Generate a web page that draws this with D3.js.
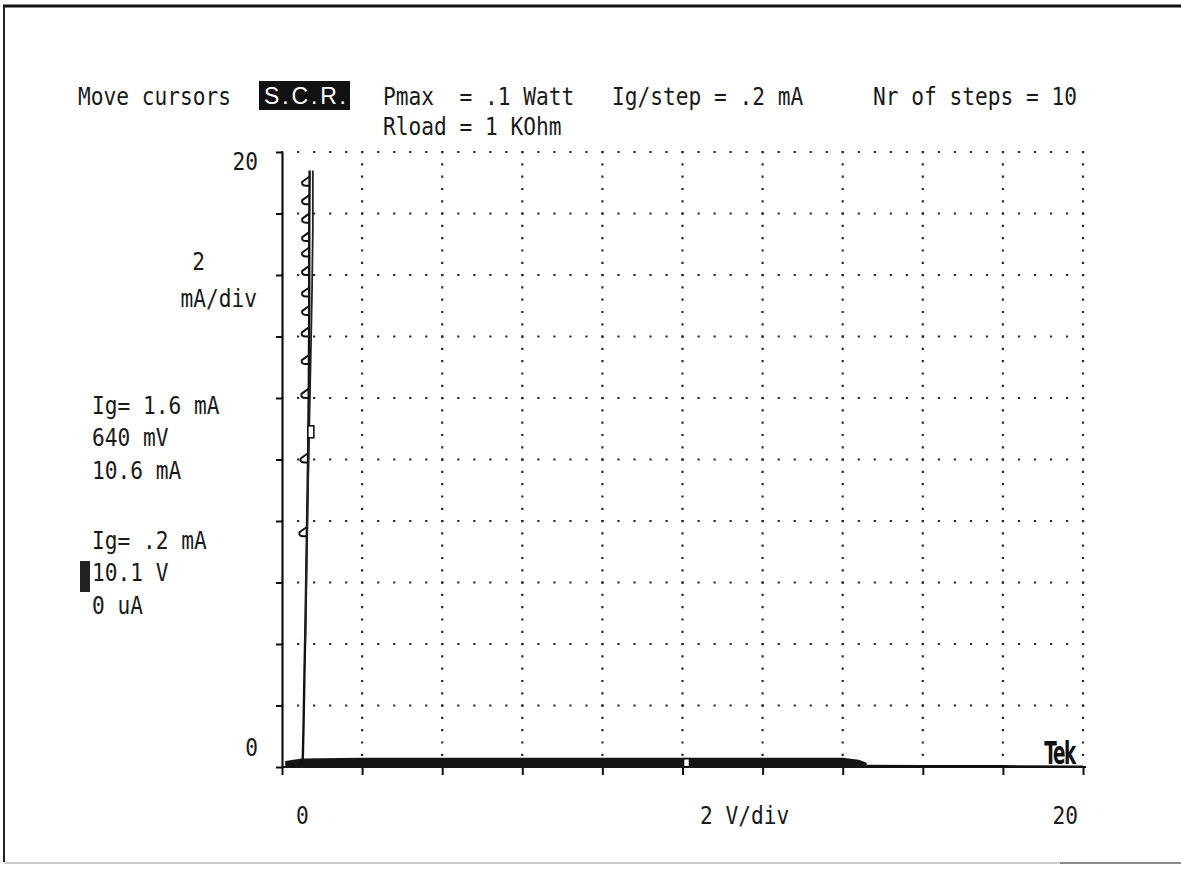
<!DOCTYPE html>
<html>
<head>
<meta charset="utf-8">
<script src="https://cdn.jsdelivr.net/npm/d3@7/dist/d3.min.js"></script>
<style>
  html,body{margin:0;padding:0;background:#fff;}
  svg{display:block;}
  .tek{font-family:"DejaVu Sans Mono",monospace;font-size:21.2px;fill:#1a1a1a;white-space:pre;}
</style>
</head>
<body>
<svg id="chart" width="1181" height="869"></svg>
<script>
// ---------------- data ----------------
const xTicks = [0, 2, 4, 6, 8, 10, 12, 14, 16, 18, 20];          // V
const yTicks = [0, 2, 4, 6, 8, 10, 12, 14, 16, 18, 20];          // mA
const xTickLabels = ["0", "2 V/div", "20"];
const yTickLabels = ["20", "2", "mA/div", "0"];
const headerRow1 = ["Move cursors", "Pmax  = .1 Watt", "Ig/step = .2 mA", "Nr of steps = 10"];
const headerRow2 = ["Rload = 1 KOhm"];
const badgeText = "S.C.R.";
const readoutA = ["Ig= 1.6 mA", "640 mV", "10.6 mA"];
const readoutB = ["Ig= .2 mA", "10.1 V", "0 uA"];
const brand = "Tek";

// off-state (gate not triggered): upper edge of the thick band, V vs mA
const offBandV = [0.08, 0.5, 2, 5, 8, 10, 12, 14.0, 14.4, 14.6];
const offBandI = [0.10, 0.18, 0.20, 0.20, 0.20, 0.20, 0.20, 0.20, 0.14, 0.04];
// off-state thin continuation to full sweep
const offThinV = [14.6, 16, 18, 20];
const offThinI = [0.04, 0.03, 0.03, 0.02];
// on-state traces (after triggering), V vs mA
const onAV = [0.45, 0.52, 0.54, 0.56, 0.59, 0.62, 0.65, 0.67, 0.68, 0.68, 0.69];
const onAI = [0.05, 0.3, 1.5, 3, 5, 7.5, 10, 12.5, 15, 17.5, 19.4];
const onBV = [0.58, 0.61, 0.64, 0.68, 0.72, 0.75, 0.77, 0.77];
const onBI = [4, 6.5, 8.5, 11, 13.5, 15.5, 17.5, 19.4];
// hooks at each step transition on the on-state trace (mA)
const hookI = [19.0, 18.4, 17.8, 17.2, 16.7, 16.1, 15.4, 14.8, 14.1, 13.2, 12.1, 10.0, 7.6];
const hookV = [0.68, 0.68, 0.68, 0.68, 0.68, 0.68, 0.68, 0.68, 0.67, 0.67, 0.66, 0.64, 0.61];
// cursor markers
const cursorV = [0.72, 10.1];
const cursorI = [10.9, 0.14];

// ---------------- drawing ----------------
const svg = d3.select("#chart");
const x = d3.scaleLinear().domain([0, 20]).range([282, 1083]);
const y = d3.scaleLinear().domain([0, 20]).range([767, 152]);

// photo frame
svg.append("rect").attr("width", 1181).attr("height", 869).attr("fill", "#fff");
svg.append("line").attr("x1", 3).attr("x2", 1181).attr("y1", 6).attr("y2", 6)
  .attr("stroke", "#111").attr("stroke-width", 3);
svg.append("line").attr("x1", 4).attr("x2", 4).attr("y1", 6).attr("y2", 862)
  .attr("stroke", "#222").attr("stroke-width", 2);
svg.append("line").attr("x1", 4).attr("x2", 1181).attr("y1", 863).attr("y2", 863)
  .attr("stroke", "#ccc").attr("stroke-width", 2);
svg.append("line").attr("x1", 1060).attr("x2", 1181).attr("y1", 863).attr("y2", 863)
  .attr("stroke", "#888").attr("stroke-width", 2);

// dotted graticule
const grid = svg.append("g");
const hStep = (x(2) - x(0)) / 5;
const vStep = (y(0) - y(2)) / 5;
grid.selectAll("line.h").data(yTicks.filter(d => d > 0)).join("line")
  .attr("x1", x(0) - 1).attr("x2", x(20) + 2)
  .attr("y1", d => y(d)).attr("y2", d => y(d))
  .attr("stroke", "#2a2a2a").attr("stroke-width", 2.2)
  .attr("stroke-dasharray", `2.2,${hStep - 2.2}`);
grid.selectAll("line.v").data(xTicks.filter(d => d > 0)).join("line")
  .attr("x1", d => x(d)).attr("x2", d => x(d))
  .attr("y1", y(20) - 1).attr("y2", y(0))
  .attr("stroke", "#2a2a2a").attr("stroke-width", 2.2)
  .attr("stroke-dasharray", `2.2,${vStep - 2.2}`);

// axes
const axL = svg.append("g").attr("transform", `translate(${x(0)},0)`)
  .call(d3.axisLeft(y).tickValues(yTicks).tickSize(6).tickSizeOuter(0).tickFormat(""));
const axB = svg.append("g").attr("transform", `translate(0,${y(0)})`)
  .call(d3.axisBottom(x).tickValues(xTicks).tickSize(8).tickSizeOuter(0).tickFormat(""));
[axL, axB].forEach(a => {
  a.select(".domain").attr("stroke", "#111").attr("stroke-width", 2.2);
  a.selectAll(".tick line").attr("stroke", "#111").attr("stroke-width", 2);
});
axB.select(".domain").attr("d", `M${x(0)},0H${x(20) + 3}`);

// curves
const band = offBandV.map((v, i) => [v, offBandI[i]]);
svg.append("path").datum(band)
  .attr("d", d3.area().x(d => x(d[0])).y0(y(0) + 1).y1(d => y(d[1]) - 3).curve(d3.curveLinear))
  .attr("fill", "#151515");
const thin = offThinV.map((v, i) => [v, offThinI[i]]);
svg.append("path").datum(thin)
  .attr("d", d3.line().x(d => x(d[0])).y(d => y(d[1])))
  .attr("fill", "none").attr("stroke", "#111").attr("stroke-width", 2);

const onA = onAV.map((v, i) => [v, onAI[i]]);
const onB = onBV.map((v, i) => [v, onBI[i]]);
svg.append("path").datum(onA)
  .attr("d", d3.line().x(d => x(d[0])).y(d => y(d[1])))
  .attr("fill", "none").attr("stroke", "#111").attr("stroke-width", 2.4);
svg.append("path").datum(onB)
  .attr("d", d3.line().x(d => x(d[0])).y(d => y(d[1])))
  .attr("fill", "none").attr("stroke", "#222").attr("stroke-width", 1.8);

// hooks
svg.append("g").selectAll("path").data(hookI.map((c, i) => [hookV[i], c])).join("path")
  .attr("d", d => {
    const px = x(d[0]), py = y(d[1]);
    return `M${px},${py - 6} L${px - 7},${py - 1} Q${px - 8},${py + 3} ${px - 3},${py + 3} L${px},${py + 3}`;
  })
  .attr("fill", "none").attr("stroke", "#111").attr("stroke-width", 2);

// cursor markers
svg.append("g").selectAll("rect").data(cursorV.map((v, i) => [v, cursorI[i]])).join("rect")
  .attr("x", d => x(d[0]) - 3).attr("y", (d, i) => y(d[1]) - (i === 0 ? 6 : 4))
  .attr("width", 6).attr("height", (d, i) => i === 0 ? 12 : 8)
  .attr("fill", "#fff").attr("stroke", "#111").attr("stroke-width", 1.6);

// text helper (Tek terminal font is tall and narrow)
function tek(str, tx, ty, anchor) {
  svg.append("text").attr("class", "tek")
    .attr("transform", `translate(${tx},${ty}) scale(1,1.15)`)
    .attr("text-anchor", anchor || "start")
    .text(str);
}

// header
const headerX = [78, 383, 612, 873];
headerRow1.forEach((t, i) => tek(t, headerX[i], 105));
tek(headerRow2[0], 383, 135);
svg.append("rect").attr("x", 259).attr("y", 81).attr("width", 91).attr("height", 29).attr("fill", "#111");
svg.append("text").attr("x", 264).attr("y", 104)
  .attr("font-family", "Liberation Sans, Arial, sans-serif").attr("font-size", 23)
  .attr("textLength", 82).attr("fill", "#fff").text(badgeText);

// y labels
tek(yTickLabels[0], 258, 170, "end");
tek(yTickLabels[1], 205, 270, "end");
tek(yTickLabels[2], 257, 307, "end");
tek(yTickLabels[3], 258, 756, "end");

// x labels
tek(xTickLabels[0], 296, 824);
tek(xTickLabels[1], 700, 824);
tek(xTickLabels[2], 1078, 824, "end");

// readouts
const readYA = [414, 446, 479];
readoutA.forEach((t, i) => tek(t, 92, readYA[i]));
const readYB = [549, 581, 614];
readoutB.forEach((t, i) => tek(t, 92, readYB[i]));
svg.append("rect").attr("x", 80).attr("y", 561).attr("width", 10).attr("height", 31).attr("fill", "#222");

// brand
svg.append("text").attr("transform", `translate(1075,764) scale(0.85,1.3)`)
  .attr("text-anchor", "end")
  .attr("font-family", "DejaVu Sans Condensed, DejaVu Sans, sans-serif")
  .attr("font-weight", "bold").attr("font-size", 24).attr("letter-spacing", -1.5)
  .attr("fill", "#111").text(brand);
</script>
</body>
</html>
